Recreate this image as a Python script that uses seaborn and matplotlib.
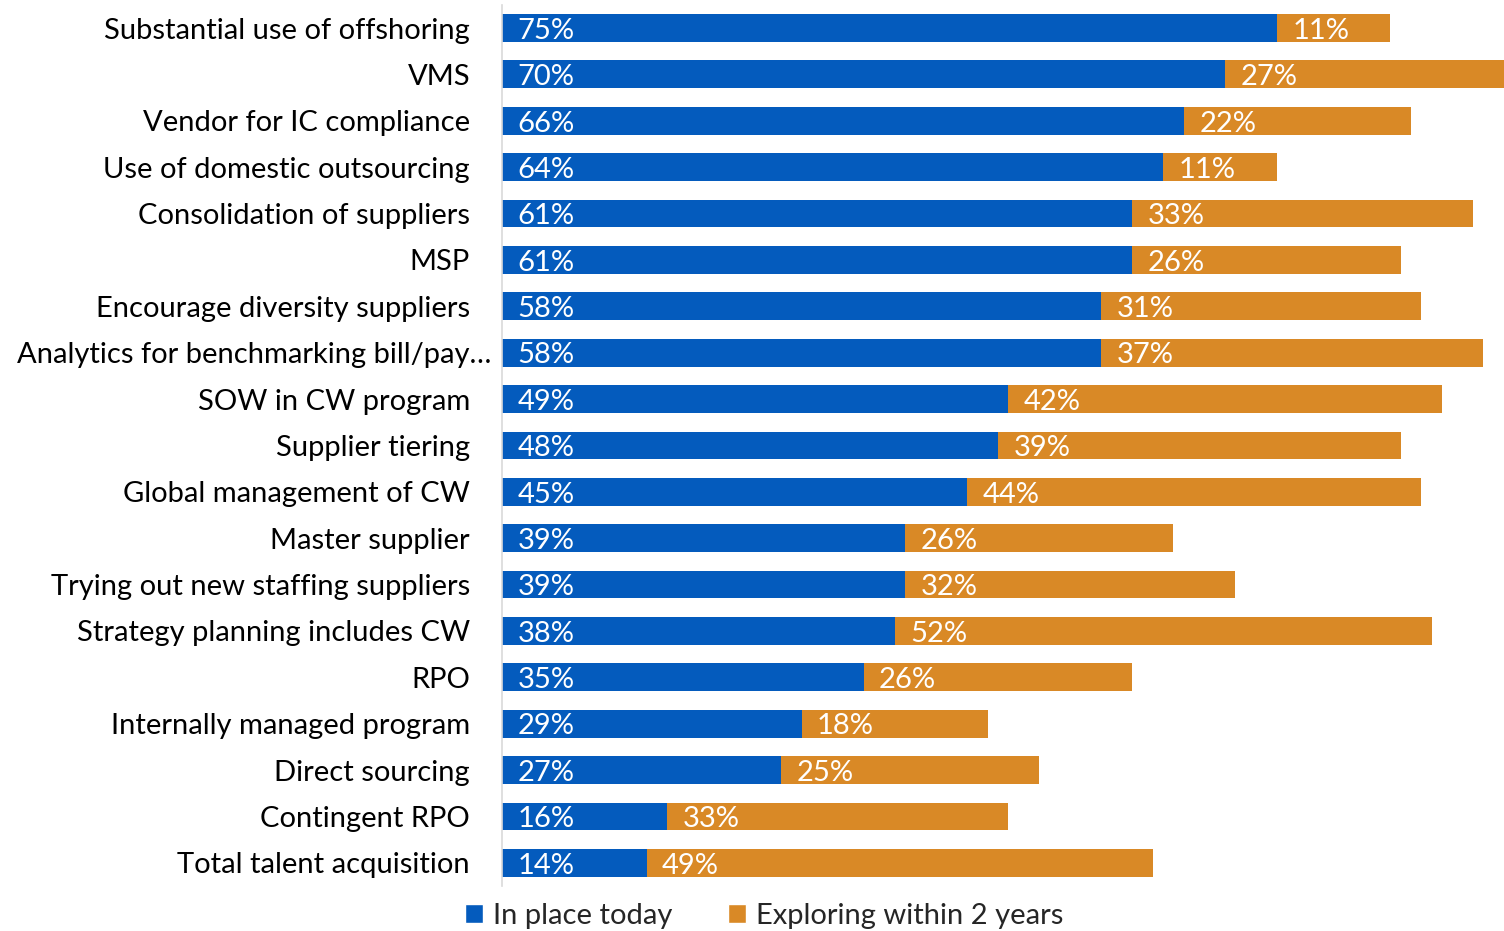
import matplotlib
matplotlib.use("Agg")
import matplotlib.pyplot as plt
import matplotlib.transforms as mtransforms
import seaborn as sns
import pandas as pd
from matplotlib.patches import Patch

categories = [
    "Substantial use of offshoring", "VMS", "Vendor for IC compliance",
    "Use of domestic outsourcing", "Consolidation of suppliers", "MSP",
    "Encourage diversity suppliers", "Analytics for benchmarking bill/pay…",
    "SOW in CW program", "Supplier tiering", "Global management of CW",
    "Master supplier", "Trying out new staffing suppliers",
    "Strategy planning includes CW", "RPO", "Internally managed program",
    "Direct sourcing", "Contingent RPO", "Total talent acquisition",
]
in_place = [75, 70, 66, 64, 61, 61, 58, 58, 49, 48, 45, 39, 39, 38, 35, 29, 27, 16, 14]
exploring = [11, 27, 22, 11, 33, 26, 31, 37, 42, 39, 44, 26, 32, 52, 26, 18, 25, 33, 49]
series_names = ["In place today", "Exploring within 2 years"]

BLUE = "#045BBD"
ORANGE = "#D98926"
FS = 21

sns.set_theme(style="white")
plt.rcParams["font.family"] = ["Lato", "DejaVu Sans"]

df = pd.DataFrame({"cat": categories, "in_place": in_place, "exploring": exploring})
df["total"] = df["in_place"] + df["exploring"]

fig = plt.figure(figsize=(15.04, 9.31), dpi=100)
ax = fig.add_axes([502 / 1504, 0.0483, 1 - 502 / 1504, 0.9465])

sns.barplot(data=df, y="cat", x="total", color=ORANGE, saturation=1, width=0.6,
            orient="h", ax=ax, linewidth=0)
sns.barplot(data=df, y="cat", x="in_place", color=BLUE, saturation=1, width=0.6,
            orient="h", ax=ax, linewidth=0)

ax.set_xlim(0, 97)
ax.set_ylim(len(categories) - 0.5, -0.5)
ax.set_xlabel("")
ax.set_ylabel("")
ax.set_xticks([])
for s in ["top", "right", "bottom"]:
    ax.spines[s].set_visible(False)
ax.spines["left"].set_color("#D9D9D9")
ax.spines["left"].set_linewidth(1.2)
ax.tick_params(axis="y", length=0, pad=23, labelsize=FS, labelcolor="#000000")

# the truncated label sits closer to the axis in the reference
for lab in ax.get_yticklabels():
    if lab.get_text().endswith("…"):
        lab.set_transform(lab.get_transform() +
                          mtransforms.ScaledTranslation(0.21, 0, fig.dpi_scale_trans))

for i, (a, b) in enumerate(zip(in_place, exploring)):
    ax.text(1.5, i + 0.06, f"{a}%", color="white", fontsize=FS, va="center", ha="left")
    ax.text(a + 1.5, i + 0.06, f"{b}%", color="white", fontsize=FS, va="center", ha="left")

handles = [Patch(facecolor=BLUE, label=series_names[0]),
           Patch(facecolor=ORANGE, label=series_names[1])]
fig.legend(handles=handles, loc="center", bbox_to_anchor=(764 / 1504, 1 - 916 / 931),
           ncol=2, frameon=False, fontsize=FS, handlelength=0.62, handleheight=0.62,
           handletextpad=0.35, columnspacing=1.9, borderpad=0, borderaxespad=0)

fig.savefig("out.png", dpi=100)
